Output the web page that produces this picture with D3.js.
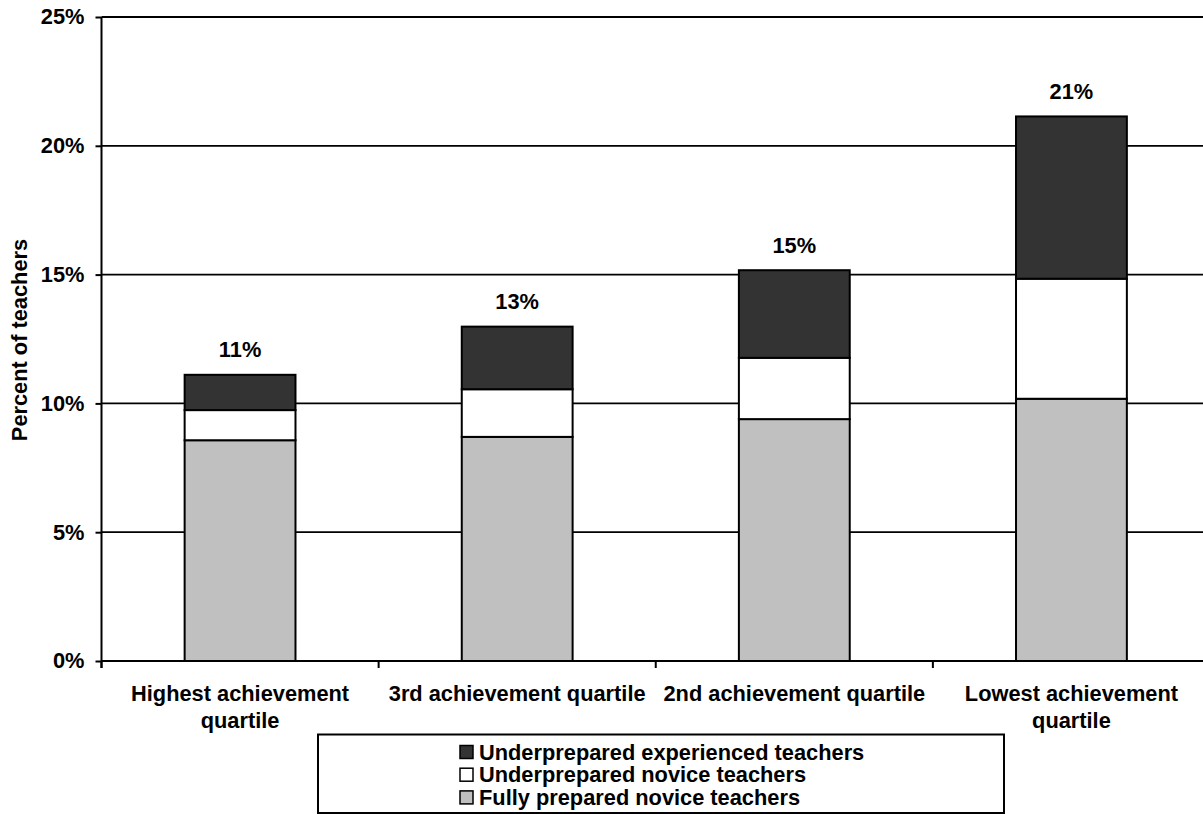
<!DOCTYPE html>
<html>
<head>
<meta charset="utf-8">
<script src="https://cdn.jsdelivr.net/npm/d3@7"></script>
<style>
  html, body { margin: 0; padding: 0; background: #fff; }
  svg { display: block; }
  text { font-family: "Liberation Sans", Arial, sans-serif; font-weight: bold; fill: #000; }
</style>
</head>
<body>
<svg id="chart" width="1203" height="814"></svg>
<script>
// ---- data ----
const categories = ["Highest achievement quartile", "3rd achievement quartile", "2nd achievement quartile", "Lowest achievement quartile"];
const categoryLines = [["Highest achievement", "quartile"], ["3rd achievement quartile"], ["2nd achievement quartile"], ["Lowest achievement", "quartile"]];
const seriesNames = ["Fully prepared novice teachers", "Underprepared novice teachers", "Underprepared experienced teachers"];
const fullyPreparedNovice = [8.57, 8.70, 9.39, 10.18];
const underpreparedNovice = [1.17, 1.85, 2.38, 4.66];
const underpreparedExperienced = [1.37, 2.43, 3.40, 6.30];
const totalLabels = ["11%", "13%", "15%", "21%"];
const yTicks = [0, 5, 10, 15, 20, 25];
const yTickLabels = ["0%", "5%", "10%", "15%", "20%", "25%"];
const seriesColors = ["#c0c0c0", "#ffffff", "#333333"];
const legendOrder = [2, 1, 0];

(function () {
// ---- layout ----
const svg = d3.select("#chart");
const pLeft = 101.5, pRight = 1210, pTop = 17, pBottom = 661;
const fontSize = 21.8;

const rows = categories.map((c, i) => ({
  cat: c,
  s0: fullyPreparedNovice[i],
  s1: underpreparedNovice[i],
  s2: underpreparedExperienced[i]
}));
const stacked = d3.stack().keys(["s0", "s1", "s2"])(rows);

const x = d3.scaleBand().domain(categories).range([pLeft, pRight]).paddingInner(0.6).paddingOuter(0.3);
const y = d3.scaleLinear().domain([0, 25]).range([pBottom, pTop]);

// gridlines
svg.append("g").selectAll("line").data(yTicks.filter(d => d > 0)).join("line")
  .attr("x1", pLeft).attr("x2", pRight)
  .attr("y1", d => y(d)).attr("y2", d => y(d))
  .attr("stroke", "#000").attr("stroke-width", 1.8);

// bars
svg.append("g").selectAll("g").data(stacked).join("g")
  .attr("fill", (d, i) => seriesColors[i])
  .selectAll("rect").data(d => d).join("rect")
  .attr("x", d => x(d.data.cat))
  .attr("width", x.bandwidth())
  .attr("y", d => y(d[1]))
  .attr("height", d => y(d[0]) - y(d[1]))
  .attr("stroke", "#000").attr("stroke-width", 2);

// total labels
const totals = rows.map(r => r.s0 + r.s1 + r.s2);
svg.append("g").selectAll("text").data(categories).join("text")
  .attr("x", d => x(d) + x.bandwidth() / 2)
  .attr("y", (d, i) => y(totals[i]) - 17.5)
  .attr("text-anchor", "middle")
  .attr("font-size", fontSize)
  .text((d, i) => totalLabels[i]);

// y axis
const yAxis = d3.axisLeft(y).tickValues(yTicks).tickFormat((d, i) => yTickLabels[i]).tickSize(6).tickPadding(11);
const gy = svg.append("g").attr("transform", `translate(${pLeft},0)`).call(yAxis);
gy.select(".domain").attr("stroke", "#000").attr("stroke-width", 2).attr("d", `M0,${pTop}V${pBottom + 7}`);
gy.selectAll(".tick line").attr("stroke", "#000").attr("stroke-width", 2);
gy.selectAll(".tick text").attr("font-size", fontSize).attr("font-family", "Liberation Sans, Arial, sans-serif").attr("font-weight", "bold").attr("fill", "#000");

// x axis line and boundary ticks
const step = x.step();
const boundaries = d3.range(categories.length + 1).map(i => x(categories[0]) - step * x.paddingOuter() + i * step);
svg.append("line").attr("x1", pLeft).attr("x2", pRight).attr("y1", pBottom).attr("y2", pBottom)
  .attr("stroke", "#000").attr("stroke-width", 2);
svg.append("g").selectAll("line").data(boundaries).join("line")
  .attr("x1", d => d).attr("x2", d => d)
  .attr("y1", pBottom).attr("y2", pBottom + 7)
  .attr("stroke", "#000").attr("stroke-width", 2);

// category labels
const catG = svg.append("g").selectAll("text").data(categories).join("text")
  .attr("x", d => x(d) + x.bandwidth() / 2)
  .attr("y", 701)
  .attr("text-anchor", "middle")
  .attr("font-size", fontSize);
catG.selectAll("tspan").data((d, i) => categoryLines[i]).join("tspan")
  .attr("x", function () { return d3.select(this.parentNode).attr("x"); })
  .attr("dy", (d, i) => i === 0 ? 0 : 26.5)
  .text(d => d);

// y axis title
svg.append("text")
  .attr("transform", "translate(26.5,340) rotate(-90)")
  .attr("text-anchor", "middle")
  .attr("font-size", fontSize)
  .text("Percent of teachers");

// legend
const lg = svg.append("g");
lg.append("rect").attr("x", 318).attr("y", 734.5).attr("width", 686).attr("height", 78.5)
  .attr("fill", "#fff").attr("stroke", "#000").attr("stroke-width", 2);
const items = lg.selectAll("g.item").data(legendOrder).join("g").attr("class", "item")
  .attr("transform", (d, i) => `translate(460,${745.5 + i * 22.7})`);
items.append("rect").attr("width", 13).attr("height", 13)
  .attr("fill", d => seriesColors[d]).attr("stroke", "#000").attr("stroke-width", 1.5);
items.append("text").attr("x", 19).attr("y", 14).attr("font-size", fontSize)
  .text(d => seriesNames[d]);
})();
</script>
</body>
</html>
